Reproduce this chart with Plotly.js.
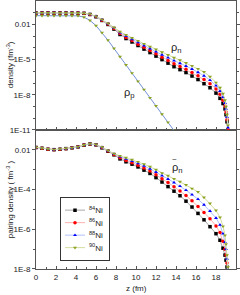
<!DOCTYPE html>
<html><head><meta charset="utf-8">
<script src="https://cdn.plot.ly/plotly-3.0.1.min.js"></script>
<style>html,body{margin:0;padding:0;background:#fff}#c{width:240px;height:295px}</style>
</head><body><div id="c"></div>
<script>
// z grid (fm)
const z = [0,0.6,1.2,1.8,2.4,3.0,3.6,4.2,4.8,5.4,6.0,6.6,7.2,7.8,8.4,9.0,9.6,10.2,10.8,11.4,12.0,12.6,13.2,13.8,14.4,15.0,15.6,16.2,16.8,17.4,18.0,18.4,18.7,18.9,19.0,19.1,19.2];
const zp = [0,0.6,1.2,1.8,2.4,3.0,3.6,4.2,4.8,5.4,6.0,6.6,7.2,7.8,8.4,9.0,9.6,10.2,10.8,11.4,12.0,12.6,13.2,13.8];
const isotopes = ['<sup>84</sup>Ni','<sup>86</sup>Ni','<sup>88</sup>Ni','<sup>90</sup>Ni'];

// neutron densities (fm^-3)
const rhoN84 = [0.095,0.095,0.095,0.095,0.095,0.095,0.094,0.093,0.089,0.071,0.045,0.022,0.010,4.0e-3,1.4e-3,6.3e-4,3.2e-4,1.6e-4,7.9e-5,4.0e-5,2.0e-5,1.0e-5,5.0e-6,2.5e-6,1.4e-6,7.9e-7,4.0e-7,2.0e-7,8.9e-8,4.0e-8,1.4e-8,5.0e-9,1.8e-9,6.3e-10,2.0e-10,5.0e-11,6.3e-12];
const rhoN86 = [0.096,0.096,0.096,0.096,0.096,0.096,0.095,0.094,0.089,0.072,0.047,0.023,0.0107,4.5e-3,1.7e-3,7.9e-4,4.2e-4,2.1e-4,1.12e-4,5.9e-5,3.1e-5,1.6e-5,8.5e-6,4.5e-6,2.6e-6,1.48e-6,7.9e-7,4.2e-7,2.0e-7,8.9e-8,3.2e-8,1.12e-8,3.5e-9,1.12e-9,3.5e-10,7.9e-11,1.0e-11];
const rhoN88 = [0.097,0.097,0.097,0.097,0.097,0.097,0.096,0.095,0.091,0.074,0.049,0.025,0.0117,5.0e-3,2.0e-3,1.0e-3,5.4e-4,3.0e-4,1.58e-4,8.7e-5,4.8e-5,2.6e-5,1.48e-5,8.1e-6,4.9e-6,2.8e-6,1.58e-6,8.3e-7,4.2e-7,1.78e-7,6.0e-8,2.1e-8,6.3e-9,2.0e-9,6.3e-10,1.26e-10,1.6e-11];
const rhoN90 = [0.098,0.098,0.098,0.098,0.098,0.098,0.097,0.096,0.091,0.076,0.050,0.026,0.0126,5.6e-3,2.4e-3,1.26e-3,7.1e-4,4.0e-4,2.24e-4,1.26e-4,7.4e-5,4.3e-5,2.5e-5,1.48e-5,8.9e-6,5.2e-6,3.0e-6,1.66e-6,8.9e-7,3.5e-7,1.1e-7,4.0e-8,1.26e-8,3.5e-9,1.0e-9,2.0e-10,2.5e-11];
// proton density (fm^-3)
const rhoP = [0.056,0.056,0.056,0.056,0.056,0.056,0.055,0.054,0.042,0.022,7.9e-3,2.0e-3,4.5e-4,8.9e-5,1.78e-5,3.5e-6,7.1e-7,1.41e-7,2.8e-8,5.6e-9,1.12e-9,2.2e-10,4.5e-11,8.9e-12];

// pairing densities (fm^-3)
const pair84 = [0.0132,0.012,0.0107,0.0102,0.0107,0.0115,0.0126,0.0141,0.0172,0.0196,0.0178,0.0126,0.0085,0.0056,3.5e-3,2.5e-3,1.9e-3,1.38e-3,9.5e-4,6.5e-4,4.0e-4,2.4e-4,1.41e-4,8.3e-5,4.9e-5,2.6e-5,1.32e-5,6.3e-6,3.0e-6,1.35e-6,6.0e-7,2.8e-7,1.12e-7,5.0e-8,2.8e-8,1.26e-8,3.2e-9];
const pair86 = [0.0132,0.012,0.0107,0.0102,0.0107,0.0115,0.0126,0.0142,0.0174,0.0199,0.0181,0.013,0.0088,0.0059,4.0e-3,2.95e-3,2.24e-3,1.7e-3,1.23e-3,8.5e-4,5.6e-4,3.5e-4,2.24e-4,1.38e-4,8.5e-5,5.0e-5,2.7e-5,1.41e-5,7.1e-6,3.4e-6,1.48e-6,6.8e-7,2.5e-7,1.0e-7,5.0e-8,2.0e-8,5.0e-9];
const pair88 = [0.0133,0.0121,0.0108,0.0103,0.0108,0.0116,0.0127,0.0143,0.0175,0.0201,0.0184,0.0134,0.0091,0.0062,4.5e-3,3.5e-3,2.7e-3,2.1e-3,1.55e-3,1.1e-3,7.6e-4,5.0e-4,3.4e-4,2.24e-4,1.48e-4,9.3e-5,5.5e-5,3.3e-5,1.7e-5,8.3e-6,3.7e-6,1.66e-6,6.0e-7,2.24e-7,1.0e-7,3.2e-8,7.9e-9];
const pair90 = [0.0134,0.0122,0.0109,0.0104,0.0109,0.0117,0.0128,0.0144,0.0177,0.0203,0.0186,0.0138,0.0093,0.0064,5.0e-3,4.0e-3,3.2e-3,2.5e-3,1.9e-3,1.41e-3,1.0e-3,6.8e-4,5.0e-4,3.5e-4,2.5e-4,1.7e-4,1.12e-4,7.6e-5,4.0e-5,2.0e-5,8.9e-6,4.0e-6,1.41e-6,5.0e-7,1.78e-7,5.0e-8,1.26e-8];

const markerColors = ['#000000','#ff0000','#0000ff','#8da323'];
const lineColors = ['#a8a8a8','#ffb0b0','#b0c0ff','#d2dd9c'];
const symbols = ['square','circle','triangle-up','triangle-down'];
const rhoN = [rhoN84,rhoN86,rhoN88,rhoN90];
const pair = [pair84,pair86,pair88,pair90];

const traces = [];
traces.push({x: zp, y: rhoP, xaxis:'x2', yaxis:'y2', mode:'lines+markers', showlegend:false,
  line:{color:'#7390d6', width:1}, marker:{symbol:'triangle-down', size:3.5, color:markerColors[3]}});
for (let i=0;i<4;i++){
  traces.push({x: z, y: rhoN[i], xaxis:'x2', yaxis:'y2', mode:'lines+markers', showlegend:false,
    line:{color:lineColors[i], width:1}, marker:{symbol:symbols[i], size:3.5, color:markerColors[i]}});
}
for (let i=0;i<4;i++){
  traces.push({x: z, y: pair[i], xaxis:'x', yaxis:'y', mode:'lines+markers', name: isotopes[i],
    line:{color:lineColors[i], width:1}, marker:{symbol:symbols[i], size:3.5, color:markerColors[i]}});
}

const F = 'Liberation Sans, Arial, sans-serif';
const axLine = '#555';
const xTicks = [0,2,4,6,8,10,12,14,16,18,20];
const xcommon = {range:[0,20], tickvals:xTicks, ticks:'inside', ticklen:3, tickcolor:axLine,
  showline:true, linecolor:axLine, linewidth:1, mirror:true, showgrid:false, zeroline:false,
  minor:{dtick:1, ticks:'inside', ticklen:2, tickcolor:axLine}, tickfont:{size:8, family:F, color:'#222'}};
const decades = [1e-1,1e-2,1e-3,1e-4,1e-5,1e-6,1e-7,1e-8,1e-9,1e-10,1e-11];
const ycommon = {type:'log', ticks:'outside', ticklen:3, tickcolor:axLine, showline:true, linecolor:axLine,
  linewidth:1, mirror:'allticks', showgrid:false, zeroline:false, tickfont:{size:8, family:F, color:'#222'},
  minor:{tickvals:decades, ticks:'outside', ticklen:2, tickcolor:axLine}};

const split = 0.5187;
const layout = {
  width:240, height:295, margin:{l:36, r:4, t:1, b:26},
  paper_bgcolor:'#fff', plot_bgcolor:'#fff', font:{family:F, size:8, color:'#222'},
  xaxis: Object.assign({}, xcommon, {anchor:'y', domain:[0,1]}),
  xaxis2: Object.assign({}, xcommon, {anchor:'y2', matches:'x', showticklabels:false}),
  yaxis: Object.assign({}, ycommon, {domain:[0,split], range:[-8,-1],
    tickvals:[1e-2,1e-4,1e-6,1e-8], ticktext:['0.01','1E-4','1E-6','1E-8']}),
  yaxis2: Object.assign({}, ycommon, {domain:[split,1], range:[-11,0],
    tickvals:[1e-2,1e-5,1e-8,1e-11], ticktext:['0.01','1E-5','1E-8','1E-11']}),
  showlegend:true,
  legend:{x:0.12, y:0.27, xanchor:'left', yanchor:'top', bordercolor:'#333', borderwidth:1,
    bgcolor:'#fff', font:{size:8, family:F}, itemwidth:30, tracegroupgap:0},
  annotations:[
    {xref:'paper', yref:'paper', x:-0.13, y:0.76, text:'density (fm<sup>-3</sup>)', textangle:-90,
      showarrow:false, font:{size:8, family:F}, xanchor:'center', yanchor:'middle'},
    {xref:'paper', yref:'paper', x:-0.13, y:0.26, text:'pairing density ( fm<sup>-3</sup> )', textangle:-90,
      showarrow:false, font:{size:8, family:F}, xanchor:'center', yanchor:'middle'},
    {xref:'paper', yref:'paper', x:0.5, y:-0.072, text:'z (fm)', showarrow:false,
      font:{size:8, family:F}, xanchor:'center', yanchor:'middle'},
    {xref:'x2', yref:'y2', x:14, y:-4.0, text:'ρ<sub>n</sub>', showarrow:false, font:{size:11, family:F}},
    {xref:'x2', yref:'y2', x:9.3, y:-7.85, text:'ρ<sub>p</sub>', showarrow:false, font:{size:11, family:F}},
    {xref:'x', yref:'y', x:14.1, y:-2.9, text:'ρ<sub>n</sub>', showarrow:false, font:{size:11, family:F}},
    {xref:'x', yref:'y', x:13.8, y:-2.48, text:'~', showarrow:false, font:{size:8, family:F}}
  ]
};
Plotly.newPlot('c', traces, layout, {staticPlot:true, displayModeBar:false}).then(function(){
  // compact the legend rows and samples to the reference size
  const leg = document.querySelector('.legend');
  if (!leg) return;
  const items = leg.querySelectorAll('.traces');
  if (items.length < 2) return;
  const parse = s => { const m = /translate\(\s*([-\d.]+)[ ,]+([-\d.]+)\s*\)/.exec(s||''); return m ? [parseFloat(m[1]), parseFloat(m[2])] : [0,0]; };
  const p0 = parse(items[0].getAttribute('transform'));
  const p1 = parse(items[1].getAttribute('transform'));
  const oldGap = p1[1] - p0[1];
  const gap = 12.5;
  const shrinkW = 12;
  items.forEach((it, i) => {
    it.setAttribute('transform', 'translate(' + p0[0] + ',' + (p0[1] + i*gap - 2) + ')');
    it.querySelectorAll('.legendlines path').forEach(p => p.setAttribute('d', 'M4,0h20'));
    it.querySelectorAll('.legendpoints .scatterpts').forEach(g => g.setAttribute('transform', 'translate(14,0)'));
    it.querySelectorAll('.legendpoints path.point').forEach(p => {
      const t = p.getAttribute('transform');
      if (t && /translate/.test(t)) p.setAttribute('transform', 'translate(14,0)');
    });
    const tx = it.querySelector('text.legendtext');
    if (tx) {
      const x = parseFloat(tx.getAttribute('x')) || 40;
      tx.setAttribute('x', x - shrinkW);
      tx.querySelectorAll('tspan[x]').forEach(ts => ts.setAttribute('x', parseFloat(ts.getAttribute('x')) - shrinkW));
    }
  });
  const bg = leg.querySelector('rect.bg');
  if (bg) {
    const h = parseFloat(bg.getAttribute('height'));
    bg.setAttribute('height', h - (items.length - 1) * (oldGap - gap) - 4);
    const w = parseFloat(bg.getAttribute('width'));
    bg.setAttribute('width', w - shrinkW);
  }
});
</script></body></html>
